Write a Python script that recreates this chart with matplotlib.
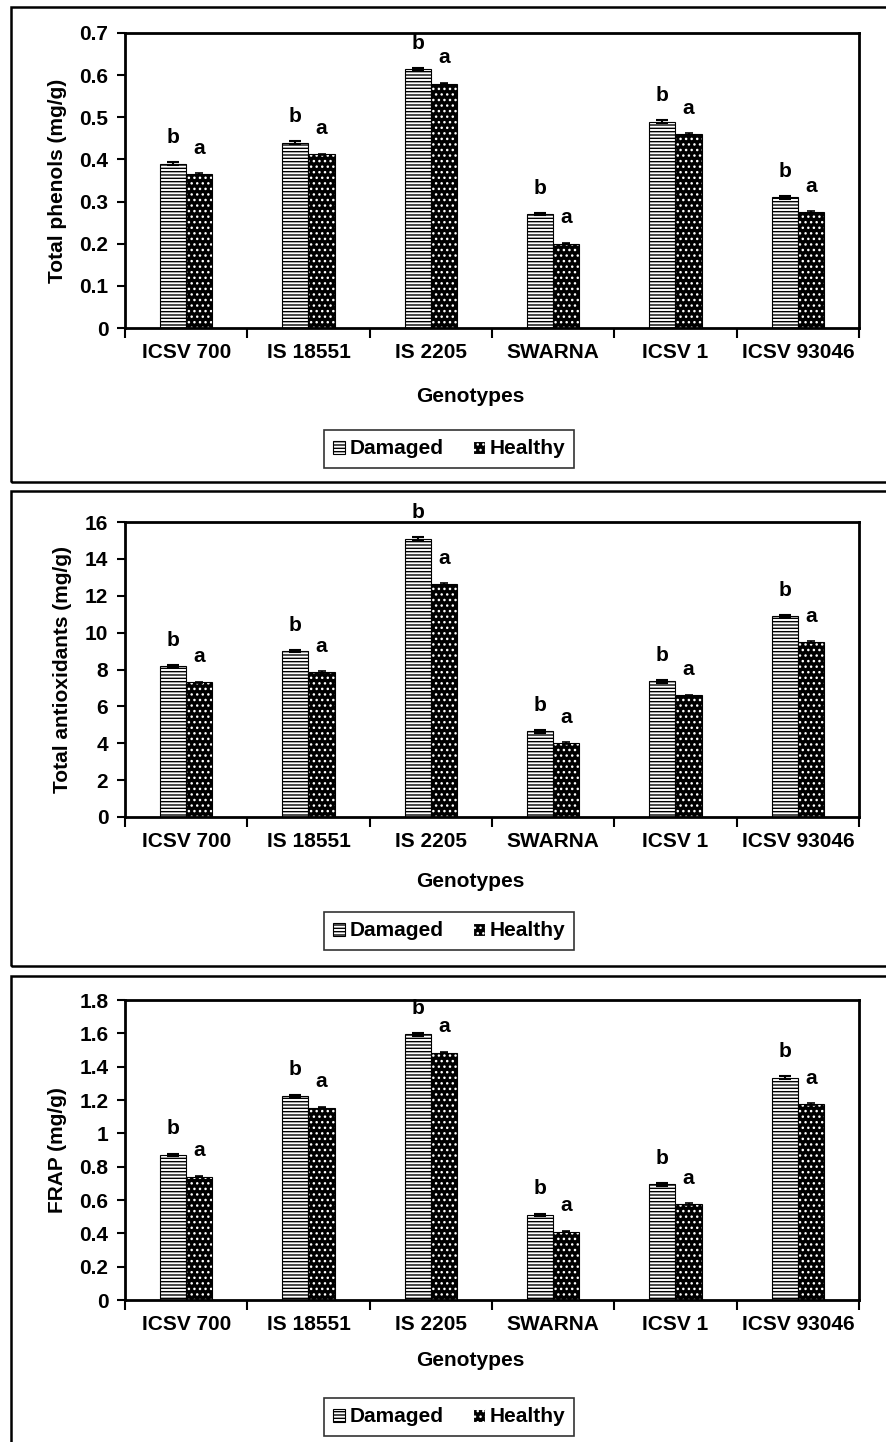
import matplotlib

matplotlib.use("Agg")
import matplotlib.pyplot as plt
import numpy as np
from matplotlib.patches import Patch, Rectangle

plt.rcParams["font.family"] = ["Liberation Sans", "DejaVu Sans"]
plt.rcParams["font.weight"] = "bold"
plt.rcParams["hatch.linewidth"] = 1.0

genotypes = ["ICSV 700", "IS 18551", "IS 2205", "SWARNA", "ICSV 1", "ICSV 93046"]

phenols_damaged = [0.39, 0.44, 0.615, 0.27, 0.49, 0.31]
phenols_healthy = [0.365, 0.412, 0.58, 0.20, 0.46, 0.275]
phenols_err = [0.003, 0.003, 0.003, 0.003, 0.003, 0.003]

antiox_damaged = [8.2, 9.0, 15.1, 4.65, 7.35, 10.9]
antiox_healthy = [7.3, 7.85, 12.65, 4.0, 6.6, 9.5]
antiox_err = [0.07, 0.07, 0.07, 0.07, 0.07, 0.07]

frap_damaged = [0.87, 1.225, 1.595, 0.51, 0.695, 1.335]
frap_healthy = [0.74, 1.155, 1.485, 0.41, 0.575, 1.175]
frap_err = [0.008, 0.008, 0.008, 0.008, 0.008, 0.008]

panels = [
    ("Total phenols (mg/g)", phenols_damaged, phenols_healthy, phenols_err,
     np.arange(0, 0.71, 0.1), ["0", "0.1", "0.2", "0.3", "0.4", "0.5", "0.6", "0.7"]),
    ("Total antioxidants (mg/g)", antiox_damaged, antiox_healthy, antiox_err,
     np.arange(0, 17, 2), ["0", "2", "4", "6", "8", "10", "12", "14", "16"]),
    ("FRAP (mg/g)", frap_damaged, frap_healthy, frap_err,
     np.arange(0, 1.81, 0.2), ["0", "0.2", "0.4", "0.6", "0.8", "1", "1.2", "1.4", "1.6", "1.8"]),
]

W, H = 887, 1442
FS = 15
fig = plt.figure(figsize=(W / 100, H / 100), dpi=100)


def fx(px):
    return px / W


def fy(py):
    return 1 - py / H


# outer panel frames (pixel extents top/bottom)
frames = [(7, 482), (491, 966), (976, 1460)]
for top, bot in frames:
    fig.patches.append(Rectangle((fx(11), fy(bot)), fx(900 - 11), fy(top) - fy(bot),
                                 transform=fig.transFigure, fill=False,
                                 edgecolor="black", linewidth=1.8))

# axes extents: (top px, bottom px)
axes_px = [(33, 328), (522, 817), (1000, 1300)]
xlabel_y = [397, 882, 1361]
legend_y = [449, 931, 1417]

x = np.arange(len(genotypes))
bw = 0.215

for (ylabel, dam, hea, err, yt, ytl), (top, bot), gy, ly in zip(panels, axes_px, xlabel_y, legend_y):
    ax = fig.add_axes([fx(125), fy(bot), fx(859 - 125), fy(top) - fy(bot)])
    ymax = yt[-1]

    ax.bar(x - bw / 2, dam, bw, facecolor="white", edgecolor="black",
           hatch="-----", linewidth=0.8)
    ax.bar(x + bw / 2, hea, bw, facecolor="black", edgecolor="white",
           hatch="...", linewidth=0)
    ax.bar(x + bw / 2, hea, bw, fill=False, edgecolor="black", linewidth=0.8)
    ax.errorbar(x - bw / 2, dam, yerr=err, fmt="none", ecolor="black",
                capsize=4, capthick=1.5, elinewidth=1.5)
    ax.errorbar(x + bw / 2, hea, yerr=np.array(err) * 0.6, fmt="none",
                ecolor="black", capsize=3, capthick=1.2, elinewidth=1.2)

    off = ymax * 0.055
    for xi, d, h in zip(x, dam, hea):
        ax.text(xi - bw / 2, d + off, "b", ha="center", va="bottom",
                fontsize=FS, fontweight="bold", clip_on=False)
        ax.text(xi + bw / 2, h + off, "a", ha="center", va="bottom",
                fontsize=FS, fontweight="bold", clip_on=False)

    ax.set_xlim(-0.5, len(genotypes) - 0.5)
    ax.set_ylim(0, ymax)
    ax.set_yticks(yt)
    ax.set_yticklabels(ytl, fontsize=FS, fontweight="bold")
    ax.set_xticks(x)
    ax.set_xticklabels(genotypes, fontsize=FS, fontweight="bold")
    ax.tick_params(axis="x", length=0, pad=11)
    ax.set_xticks(np.arange(-0.5, len(genotypes), 1), minor=True)
    ax.tick_params(axis="x", which="minor", length=7, width=1.5, direction="out")
    ax.tick_params(axis="y", length=6, width=1.5, direction="out", pad=6)
    for s in ax.spines.values():
        s.set_linewidth(2)
    ax.set_ylabel(ylabel, fontsize=FS, fontweight="bold", labelpad=9)

    fig.text(fx(470), fy(gy), "Genotypes", ha="center", va="center",
             fontsize=FS, fontweight="bold")

    h_dam = Patch(facecolor="white", edgecolor="black", hatch="-----", linewidth=0.8)
    h_hea = Patch(facecolor="black", edgecolor="white", hatch="...", linewidth=0.8)
    leg = fig.legend([h_dam, h_hea], ["Damaged", "Healthy"], loc="center",
                     bbox_to_anchor=(fx(449), fy(ly)), ncol=2, frameon=True,
                     fancybox=False, edgecolor="black", fontsize=FS,
                     handlelength=0.6, handleheight=0.6, handletextpad=0.2,
                     columnspacing=1.4, borderpad=0.45)
    leg.get_frame().set_linewidth(1.2)
    for t in leg.get_texts():
        t.set_fontweight("bold")

fig.savefig("out.png", dpi=100)
